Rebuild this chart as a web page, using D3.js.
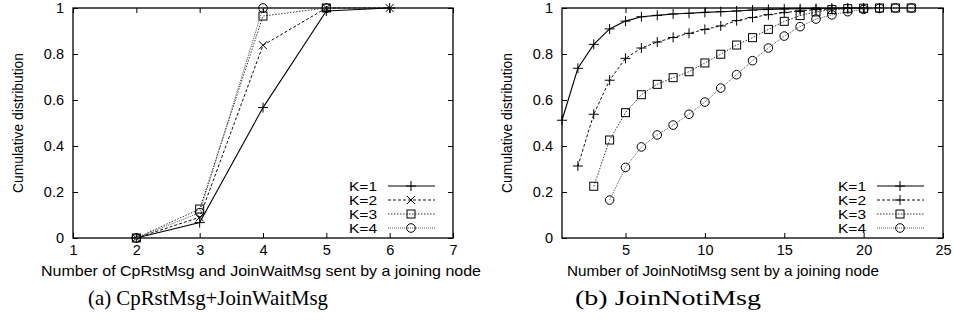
<!DOCTYPE html>
<html>
<head>
<meta charset="utf-8">
<script src="https://cdn.jsdelivr.net/npm/d3@7"></script>
<style>
  html, body { margin: 0; padding: 0; background: #fff; }
  svg text { font-family: "Liberation Sans", Arial, sans-serif; fill: #000; }
  .caption { font-family: "Liberation Serif", "DejaVu Serif", serif; }
</style>
</head>
<body>
<div id="chart"></div>
<script>
// series labels
const seriesNames = ['K=1', 'K=2', 'K=3', 'K=4'];

// (a) CpRstMsg + JoinWaitMsg
const aX1 = [2, 3, 4, 5, 6];
const aK1 = [0, 0.067, 0.567, 0.987, 1];
const aX2 = [2, 3, 4, 5, 6];
const aK2 = [0, 0.09, 0.838, 1, 1];
const aX3 = [2, 3, 4, 5];
const aK3 = [0, 0.126, 0.965, 1];
const aX4 = [2, 3, 4, 5];
const aK4 = [0, 0.11, 1, 1];
const aXTicks = [1, 2, 3, 4, 5, 6, 7];

// (b) JoinNotiMsg
const bX1 = d3.range(1, 21);
const bK1 = [0.512, 0.738, 0.842, 0.909, 0.943, 0.962, 0.968, 0.974, 0.977, 0.981,
             0.984, 0.987, 0.991, 0.994, 0.996, 0.997, 0.998, 0.999, 1, 1];
const bX2 = d3.range(2, 22);
const bK2 = [0.313, 0.538, 0.686, 0.781, 0.826, 0.852, 0.872, 0.89, 0.907, 0.922,
             0.945, 0.959, 0.971, 0.98, 0.988, 0.993, 0.996, 0.998, 0.999, 1];
const bX3 = d3.range(3, 24);
const bK3 = [0.225, 0.426, 0.545, 0.623, 0.668, 0.697, 0.723, 0.761, 0.799, 0.839,
             0.871, 0.907, 0.942, 0.967, 0.983, 0.993, 0.997, 0.999, 1, 1, 1];
const bX4 = d3.range(4, 24);
const bK4 = [0.165, 0.307, 0.396, 0.448, 0.491, 0.538, 0.591, 0.652, 0.71, 0.771,
             0.826, 0.878, 0.919, 0.952, 0.97, 0.984, 0.994, 0.998, 1, 1];
const bXTicks = [5, 10, 15, 20, 25];

const yTicks = [0, 0.2, 0.4, 0.6, 0.8, 1];

const width = 954, height = 320;
const svg = d3.select('#chart').append('svg')
  .attr('width', width)
  .attr('height', height);

// line styles per series
const styles = [
  { stroke: '#000', dash: null, width: 1.1 },
  { stroke: '#111', dash: '3,2', width: 1 },
  { stroke: '#333', dash: '1.5,1.5', width: 1 },
  { stroke: '#555', dash: '1,1', width: 1 }
];

function marker(g, type, x, y) {
  const s = 5;
  if (type === 'plus') {
    g.append('path').attr('d', `M${x - s},${y}H${x + s}M${x},${y - s}V${y + s}`)
      .attr('stroke', '#000').attr('fill', 'none');
  } else if (type === 'cross') {
    const c = 4;
    g.append('path').attr('d', `M${x - c},${y - c}L${x + c},${y + c}M${x - c},${y + c}L${x + c},${y - c}`)
      .attr('stroke', '#000').attr('fill', 'none');
  } else if (type === 'square') {
    g.append('rect').attr('x', x - 4).attr('y', y - 4).attr('width', 8).attr('height', 8)
      .attr('stroke', '#000').attr('fill', 'none');
  } else if (type === 'circle') {
    g.append('circle').attr('cx', x).attr('cy', y).attr('r', 4.3)
      .attr('stroke', '#000').attr('fill', 'none');
  }
}

function panel(opts) {
  const { left, right, top, bottom, xDomain, xTicks, series, markers, legendX,
          xLabel, xLabelX, xLabelLen, yLabelX, caption, captionX, captionLen } = opts;
  const x = d3.scaleLinear().domain(xDomain).range([left, right]);
  const y = d3.scaleLinear().domain([0, 1]).range([bottom, top]);
  const g = svg.append('g');

  // inward ticks on all four sides (gnuplot style)
  const tl = 5;
  const xAxisB = d3.axisBottom(x).tickValues(xTicks).tickSize(-tl).tickPadding(7).tickFormat(d3.format('d'));
  const xAxisT = d3.axisTop(x).tickValues(xTicks).tickSize(-tl).tickFormat('');
  const yAxisL = d3.axisLeft(y).tickValues(yTicks).tickSize(-tl).tickPadding(9).tickFormat(d => d3.format('~g')(d));
  const yAxisR = d3.axisRight(y).tickValues(yTicks).tickSize(-tl).tickFormat('');

  g.append('g').attr('transform', `translate(0,${bottom})`).call(xAxisB);
  g.append('g').attr('transform', `translate(0,${top})`).call(xAxisT);
  g.append('g').attr('transform', `translate(${left},0)`).call(yAxisL);
  g.append('g').attr('transform', `translate(${right},0)`).call(yAxisR);
  g.selectAll('.domain').remove();
  g.selectAll('.tick line').attr('stroke', '#000');
  g.selectAll('.tick text').attr('font-size', 14.5).attr('font-family', '"Liberation Sans", Arial, sans-serif').attr('fill', '#000');

  // frame
  g.append('rect').attr('x', left).attr('y', top).attr('width', right - left).attr('height', bottom - top)
    .attr('fill', 'none').attr('stroke', '#000').attr('stroke-width', 1.3);

  // series
  const line = d3.line().x(d => x(d[0])).y(d => y(d[1]));
  series.forEach((s, i) => {
    const pts = s.xs.map((v, j) => [v, s.ys[j]]);
    g.append('path').datum(pts).attr('d', line)
      .attr('fill', 'none').attr('stroke', styles[i].stroke)
      .attr('stroke-width', styles[i].width)
      .attr('stroke-dasharray', styles[i].dash);
    const mg = g.append('g');
    pts.forEach(p => marker(mg, markers[i], x(p[0]), y(p[1])));
  });

  // legend
  const rowY = [186, 200, 214, 228];
  seriesNames.forEach((n, i) => {
    g.append('text').attr('x', legendX).attr('y', rowY[i] + 4.5).attr('font-size', 12)
      .attr('textLength', 28).attr('lengthAdjust', 'spacingAndGlyphs').text(n);
    g.append('line').attr('x1', legendX + 39).attr('x2', legendX + 86)
      .attr('y1', rowY[i]).attr('y2', rowY[i])
      .attr('stroke', styles[i].stroke).attr('stroke-dasharray', styles[i].dash);
    marker(g, markers[i], legendX + 62, rowY[i]);
  });

  // axis titles
  g.append('text').attr('x', xLabelX).attr('y', bottom + 38).attr('text-anchor', 'middle')
    .attr('font-size', 14.5).attr('textLength', xLabelLen).attr('lengthAdjust', 'spacingAndGlyphs')
    .text(xLabel);
  g.append('text').attr('transform', `translate(${yLabelX},${(top + bottom) / 2}) rotate(-90)`)
    .attr('text-anchor', 'middle').attr('font-size', 14).attr('textLength', 140)
    .attr('lengthAdjust', 'spacingAndGlyphs').text('Cumulative distribution');

  // caption
  g.append('text').attr('class', 'caption').attr('x', captionX).attr('y', 305)
    .attr('text-anchor', 'middle').attr('font-size', 22)
    .attr('textLength', captionLen).attr('lengthAdjust', 'spacingAndGlyphs').text(caption);
}

panel({
  left: 73, right: 453, top: 8, bottom: 238,
  xDomain: [1, 7], xTicks: aXTicks,
  series: [
    { xs: aX1, ys: aK1 }, { xs: aX2, ys: aK2 },
    { xs: aX3, ys: aK3 }, { xs: aX4, ys: aK4 }
  ],
  markers: ['plus', 'cross', 'square', 'circle'],
  legendX: 349,
  xLabel: 'Number of CpRstMsg and JoinWaitMsg sent by a joining node', xLabelX: 261, xLabelLen: 440,
  yLabelX: 23,
  caption: '(a) CpRstMsg+JoinWaitMsg', captionX: 208, captionLen: 240
});

panel({
  left: 562, right: 943, top: 8, bottom: 238,
  xDomain: [1, 25], xTicks: bXTicks,
  series: [
    { xs: bX1, ys: bK1 }, { xs: bX2, ys: bK2 },
    { xs: bX3, ys: bK3 }, { xs: bX4, ys: bK4 }
  ],
  markers: ['plus', 'plus', 'square', 'circle'],
  legendX: 838,
  xLabel: 'Number of JoinNotiMsg sent by a joining node', xLabelX: 723, xLabelLen: 312,
  yLabelX: 512,
  caption: '(b) JoinNotiMsg', captionX: 668, captionLen: 186
});
</script>
</body>
</html>
